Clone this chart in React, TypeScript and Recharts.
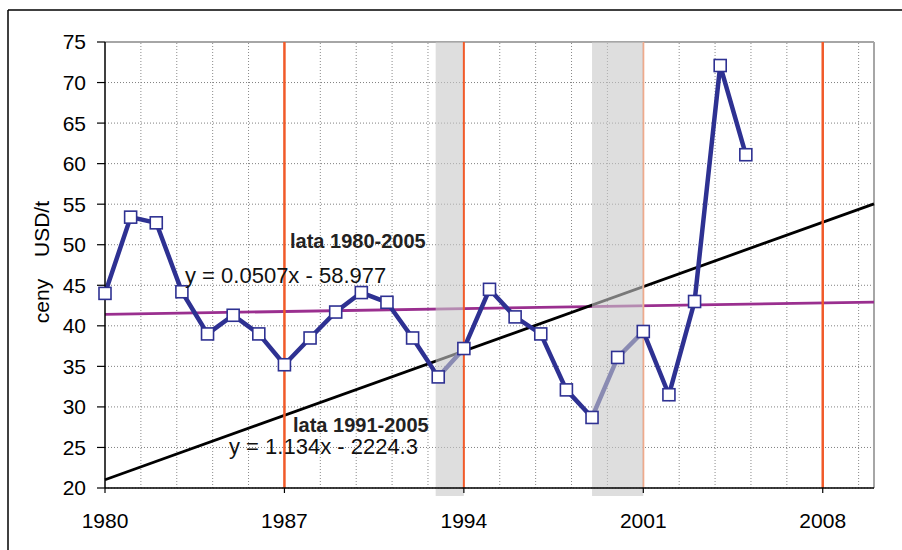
import React from 'react';
import { LineChart, Line, XAxis, YAxis, CartesianGrid, ReferenceLine, ReferenceArea } from 'recharts';

// ---- data ----
const years = [1980, 1981, 1982, 1983, 1984, 1985, 1986, 1987, 1988, 1989, 1990, 1991, 1992, 1993, 1994, 1995, 1996, 1997, 1998, 1999, 2000, 2001, 2002, 2003, 2004, 2005];
const prices = [44.0, 53.4, 52.7, 44.2, 39.0, 41.3, 39.0, 35.2, 38.5, 41.7, 44.1, 42.9, 38.5, 33.7, 37.2, 44.5, 41.1, 39.0, 32.1, 28.7, 36.1, 39.3, 31.5, 43.0, 72.1, 61.1];

const trendYears = [1980, 2010];
const trend1980_2005 = [41.41, 42.93]; // y = 0.0507x - 58.977
const trend1991_2005 = [21.02, 55.04]; // y = 1.134x - 2224.3

const xTicks = [1980, 1987, 1994, 2001, 2008];
const yTicks = [20, 25, 30, 35, 40, 45, 50, 55, 60, 65, 70, 75];
const minorGridYears = [1981.4, 1982.8, 1984.2, 1985.6, 1988.4, 1989.8, 1991.2, 1992.6, 1995.4, 1996.8, 1998.2, 1999.6, 2002.4, 2003.8, 2005.2, 2006.6, 2009.4];
const strongMarkers = [1987, 2008];
const bandStarts = [1992.9, 1999];
const bandEnds = [1994, 2001];

const priceData = years.map((x, i) => ({ x, y: prices[i] }));
const trendA = trendYears.map((x, i) => ({ x, y: trend1980_2005[i] }));
const trendB = trendYears.map((x, i) => ({ x, y: trend1991_2005[i] }));

const FONT = '"Liberation Sans", Arial, sans-serif';
const NAVY = '#2e3192';
const ORANGE = '#f15a29';

const SquareDot = (props: any) => {
  const { cx, cy, index } = props;
  if (cx == null || cy == null) return <g key={`sq-${index}`} />;
  return (
    <rect key={`sq-${index}`} x={cx - 6} y={cy - 6} width={12} height={12} fill="#ffffff" stroke={NAVY} strokeWidth={1.6} />
  );
};

export default function App() {
  return (
    <div style={{ position: 'absolute', left: 0, top: 0, width: 902, height: 550, background: '#fff', fontFamily: FONT }}>
      <LineChart width={902} height={550} margin={{ top: 42, right: 28, bottom: 32, left: 45 }}>
        <CartesianGrid vertical={false} stroke="#808080" strokeDasharray="1 2" />
        {minorGridYears.map((g) => (
          <ReferenceLine key={`g${g}`} x={g} stroke="#8a8a8a" strokeDasharray="1 2" zIndex={-90} />
        ))}
        <ReferenceLine y={75} stroke="#a6a6a6" strokeWidth={2} zIndex={-80} />
        <ReferenceLine x={2010} stroke="#a6a6a6" strokeWidth={2} zIndex={-80} />
        <XAxis
          type="number"
          dataKey="x"
          domain={[1980, 2010]}
          ticks={xTicks}
          interval={0}
          tickSize={5}
          tickMargin={20}
          axisLine={{ stroke: '#000', strokeWidth: 1.5 }}
          tickLine={{ stroke: '#000', strokeWidth: 1.2 }}
          tick={{ fill: '#000', fontSize: 21, fontFamily: FONT }}
          height={30}
        />
        <YAxis
          type="number"
          domain={[20, 75]}
          ticks={yTicks}
          interval={0}
          tickSize={8}
          tickMargin={11}
          width={60}
          axisLine={{ stroke: '#000', strokeWidth: 1.5 }}
          tickLine={{ stroke: '#000', strokeWidth: 1.2 }}
          tick={{ fill: '#000', fontSize: 21, fontFamily: FONT }}
        />
        <Line data={trendA} dataKey="y" type="linear" stroke="#9a2f8f" strokeWidth={2.8} dot={false} isAnimationActive={false} />
        <Line data={trendB} dataKey="y" type="linear" stroke="#000" strokeWidth={2.8} dot={false} isAnimationActive={false} />
        {strongMarkers.map((m) => (
          <ReferenceLine key={`o${m}`} x={m} stroke={ORANGE} strokeWidth={2.5} />
        ))}
        <ReferenceLine x={bandEnds[1]} stroke="#f7a47f" strokeWidth={2} />
        <Line data={priceData} dataKey="y" type="linear" stroke={NAVY} strokeWidth={4.5} dot={SquareDot} isAnimationActive={false} />
        {bandStarts.map((s, i) => (
          <ReferenceArea key={`b${i}`} x1={s} x2={bandEnds[i]} y1={19} y2={75} ifOverflow="visible" fill="#c8c8c8" fillOpacity={0.6} stroke="none" zIndex={450} />
        ))}
        <ReferenceLine x={bandEnds[0]} stroke={ORANGE} strokeWidth={2} zIndex={460} />
      </LineChart>
      <svg width={902} height={550} style={{ position: 'absolute', left: 0, top: 0, pointerEvents: 'none' }}>
        <line x1={8} y1={10} x2={902} y2={10} stroke="#000" strokeWidth={1.5} />
        <line x1={8} y1={10} x2={8} y2={550} stroke="#000" strokeWidth={1.5} />
        <text x={42} y={229} transform="rotate(-90 42 229)" textAnchor="middle" dy="0.35em" fontSize={21} fontFamily={FONT} fill="#000">USD/t</text>
        <text x={42} y={301} transform="rotate(-90 42 301)" textAnchor="middle" dy="0.35em" fontSize={21} fontFamily={FONT} fill="#000">ceny</text>
        <text x={290} y={248} fontSize={20} fontWeight="bold" fontFamily={FONT} fill="#222">lata 1980-2005</text>
        <text x={185} y={283} fontSize={22} fontFamily={FONT} fill="#111">y = 0.0507x - 58.977</text>
        <text x={293} y={432} fontSize={20} fontWeight="bold" fontFamily={FONT} fill="#222">lata 1991-2005</text>
        <text x={229} y={454} fontSize={22} fontFamily={FONT} fill="#111">y = 1.134x - 2224.3</text>
      </svg>
    </div>
  );
}
